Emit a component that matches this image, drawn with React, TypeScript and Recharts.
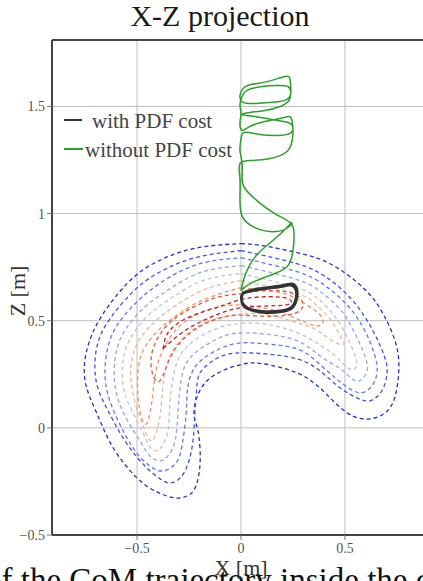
import React from 'react';
import { LineChart, Line, XAxis, YAxis, CartesianGrid, ReferenceLine } from 'recharts';

type Pt = [number, number];

const xTicks = [-0.5, 0, 0.5];
const zTicks = [-0.5, 0, 0.5, 1, 1.5];

// density contours, outermost (blue) to innermost (red)
const c1: Pt[] = [[0, 0.860], [0.106, 0.850], [0.269, 0.818], [0.428, 0.766], [0.587, 0.654], [0.683, 0.533], [0.750, 0.374], [0.755, 0.220], [0.716, 0.093], [0.620, 0.042], [0.510, 0.070], [0.394, 0.173], [0.269, 0.257], [0.106, 0.299], [-0.005, 0.294], [-0.163, 0.220], [-0.226, 0.079], [-0.207, -0.014], [-0.197, -0.168], [-0.221, -0.280], [-0.260, -0.318], [-0.317, -0.327], [-0.404, -0.299], [-0.500, -0.234], [-0.615, -0.093], [-0.692, 0.065], [-0.750, 0.220], [-0.736, 0.383], [-0.663, 0.533], [-0.548, 0.673], [-0.423, 0.766], [-0.231, 0.836], [0, 0.860]];
const c2: Pt[] = [[0, 0.827], [0.269, 0.766], [0.413, 0.701], [0.538, 0.593], [0.635, 0.453], [0.692, 0.327], [0.702, 0.252], [0.678, 0.173], [0.620, 0.126], [0.558, 0.140], [0.476, 0.187], [0.380, 0.266], [0.269, 0.322], [0.106, 0.346], [-0.053, 0.346], [-0.149, 0.304], [-0.197, 0.257], [-0.212, 0.196], [-0.221, 0.079], [-0.231, -0.061], [-0.255, -0.168], [-0.293, -0.234], [-0.341, -0.257], [-0.389, -0.238], [-0.462, -0.178], [-0.558, -0.061], [-0.639, 0.079], [-0.697, 0.220], [-0.692, 0.383], [-0.630, 0.509], [-0.524, 0.631], [-0.404, 0.720], [-0.221, 0.794], [0, 0.827]];
const c3: Pt[] = [[0, 0.794], [0.269, 0.729], [0.404, 0.664], [0.514, 0.570], [0.596, 0.453], [0.644, 0.336], [0.654, 0.257], [0.630, 0.196], [0.582, 0.164], [0.524, 0.182], [0.452, 0.234], [0.370, 0.304], [0.269, 0.369], [0.106, 0.393], [-0.029, 0.393], [-0.139, 0.350], [-0.216, 0.290], [-0.255, 0.196], [-0.264, 0.065], [-0.284, -0.084], [-0.313, -0.164], [-0.375, -0.201], [-0.438, -0.178], [-0.510, -0.107], [-0.591, 0.033], [-0.649, 0.196], [-0.644, 0.360], [-0.591, 0.486], [-0.495, 0.593], [-0.385, 0.678], [-0.212, 0.762], [0, 0.794]];
const c4: Pt[] = [[0, 0.757], [0.269, 0.692], [0.389, 0.631], [0.486, 0.542], [0.553, 0.430], [0.596, 0.336], [0.606, 0.266], [0.572, 0.220], [0.534, 0.229], [0.476, 0.276], [0.380, 0.336], [0.269, 0.407], [0.106, 0.439], [-0.043, 0.439], [-0.149, 0.397], [-0.236, 0.336], [-0.284, 0.243], [-0.303, 0.079], [-0.317, -0.061], [-0.351, -0.131], [-0.389, -0.154], [-0.438, -0.131], [-0.486, -0.061], [-0.558, 0.056], [-0.606, 0.196], [-0.601, 0.350], [-0.553, 0.463], [-0.462, 0.565], [-0.356, 0.640], [-0.197, 0.724], [0, 0.757]];
const c5: Pt[] = [[0, 0.720], [0.269, 0.654], [0.370, 0.603], [0.452, 0.519], [0.514, 0.416], [0.553, 0.322], [0.548, 0.276], [0.514, 0.280], [0.452, 0.336], [0.370, 0.393], [0.269, 0.444], [0.106, 0.486], [-0.053, 0.481], [-0.163, 0.444], [-0.255, 0.383], [-0.313, 0.290], [-0.341, 0.126], [-0.351, -0.014], [-0.380, -0.084], [-0.404, -0.107], [-0.438, -0.089], [-0.471, -0.023], [-0.524, 0.079], [-0.567, 0.196], [-0.563, 0.336], [-0.519, 0.439], [-0.438, 0.533], [-0.332, 0.607], [-0.183, 0.687], [0, 0.720]];
const c6: Pt[] = [[0, 0.687], [0.269, 0.626], [0.356, 0.579], [0.428, 0.509], [0.476, 0.430], [0.495, 0.393], [0.466, 0.393], [0.404, 0.430], [0.332, 0.472], [0.236, 0.500], [0.106, 0.533], [-0.053, 0.523], [-0.173, 0.491], [-0.269, 0.430], [-0.341, 0.336], [-0.375, 0.196], [-0.389, 0.056], [-0.413, -0.037], [-0.428, -0.061], [-0.447, -0.047], [-0.471, 0.009], [-0.505, 0.103], [-0.529, 0.220], [-0.524, 0.322], [-0.486, 0.416], [-0.409, 0.500], [-0.308, 0.575], [-0.163, 0.650], [0, 0.687]];
const c7: Pt[] = [[0, 0.654], [0.188, 0.631], [0.284, 0.593], [0.370, 0.537], [0.394, 0.491], [0.356, 0.477], [0.269, 0.509], [0.163, 0.547], [0.043, 0.570], [-0.077, 0.570], [-0.197, 0.537], [-0.293, 0.477], [-0.365, 0.383], [-0.409, 0.266], [-0.428, 0.126], [-0.447, 0.033], [-0.462, 0.019], [-0.481, 0.056], [-0.495, 0.150], [-0.495, 0.266], [-0.471, 0.360], [-0.413, 0.439], [-0.332, 0.509], [-0.221, 0.579], [-0.101, 0.626], [0, 0.654]];
const c8: Pt[] = [[0, 0.626], [0.115, 0.640], [0.236, 0.631], [0.293, 0.593], [0.284, 0.547], [0.197, 0.523], [0.067, 0.523], [-0.053, 0.523], [-0.173, 0.486], [-0.260, 0.430], [-0.322, 0.360], [-0.361, 0.280], [-0.389, 0.220], [-0.418, 0.234], [-0.433, 0.304], [-0.418, 0.383], [-0.370, 0.463], [-0.293, 0.528], [-0.197, 0.579], [-0.101, 0.612], [0, 0.626]];
const c9: Pt[] = [[-0.375, 0.369], [-0.351, 0.444], [-0.284, 0.500], [-0.197, 0.537], [-0.091, 0.570], [0.019, 0.603], [0.139, 0.612], [0.226, 0.603], [0.236, 0.579], [0.163, 0.570], [0.043, 0.565], [-0.063, 0.547], [-0.163, 0.509], [-0.255, 0.463], [-0.332, 0.407], [-0.375, 0.369]];

const contours = [c1, c2, c3, c4, c5, c6, c7, c8, c9];
const contourColors = ['#2430c8', '#3f54da', '#6078ea', '#90a6f0', '#c6c2d0', '#e8b898', '#ee9464', '#dc5a3a', '#be2228'];

// CoM trajectory without the PDF cost (green)
const withoutPdf: Pt[] = [[0, 0.640], [0.014, 0.696], [0.043, 0.762], [0.091, 0.822], [0.159, 0.879], [0.216, 0.930], [0.245, 0.958], [0.226, 0.935], [0.168, 0.916], [0.091, 0.925], [0.029, 0.958], [0, 1.005], [-0.005, 1.084], [-0.005, 1.164], [-0.005, 1.234], [0.053, 1.248], [0.139, 1.257], [0.207, 1.280], [0.240, 1.318], [0.250, 1.379], [0.245, 1.435], [0.231, 1.453], [0.188, 1.444], [0.115, 1.430], [0.043, 1.407], [0.005, 1.388], [-0.005, 1.425], [0, 1.467], [-0.005, 1.509], [0.005, 1.547], [0.029, 1.575], [0.101, 1.593], [0.178, 1.598], [0.226, 1.593], [0.240, 1.565], [0.221, 1.533], [0.154, 1.519], [0.072, 1.514], [0.010, 1.519], [-0.005, 1.551], [0.010, 1.584], [0.053, 1.603], [0.130, 1.617], [0.212, 1.640], [0.236, 1.626], [0.240, 1.575], [0.231, 1.528], [0.188, 1.500], [0.115, 1.481], [0.043, 1.472], [0.005, 1.462], [0.067, 1.453], [0.149, 1.439], [0.226, 1.425], [0.250, 1.402], [0.236, 1.374], [0.173, 1.364], [0.091, 1.369], [0.019, 1.379], [0, 1.350], [-0.005, 1.294], [0.005, 1.238], [0.005, 1.164], [0.019, 1.117], [0.082, 1.056], [0.163, 1.000], [0.236, 0.958], [0.255, 0.911], [0.250, 0.827], [0.226, 0.757], [0.163, 0.720], [0.053, 0.678], [0, 0.640]];

// CoM trajectory with the PDF cost (black)
const withPdf: Pt[] = [[0.005, 0.631], [0.077, 0.650], [0.188, 0.664], [0.245, 0.673], [0.269, 0.650], [0.269, 0.603], [0.250, 0.561], [0.202, 0.542], [0.106, 0.537], [0.029, 0.556], [0.005, 0.579], [0, 0.607], [0.010, 0.626], [0.082, 0.643], [0.190, 0.657], [0.240, 0.665], [0.262, 0.645], [0.263, 0.605], [0.245, 0.566], [0.200, 0.549], [0.105, 0.545], [0.033, 0.561], [0.008, 0.584], [0.004, 0.608], [0.010, 0.628]];

const rows = (pts: Pt[]) => pts.map(([x, z]) => ({ x, z }));
const fmt = (v: number) => (v < 0 ? '\u2212' + Math.abs(v) : String(v));
const serif = '"Liberation Serif", "DejaVu Serif", serif';

const App: React.FC = () => {
  return <div style={{ position: 'absolute', left: 0, top: 0, width: 423, height: 581, overflow: 'hidden', background: '#fff', fontFamily: serif }}>
      <div style={{ position: 'absolute', left: 0, top: -1, width: 440, textAlign: 'center', fontSize: 30, lineHeight: '34px', color: '#1a1a1a' }}>
        X-Z projection
      </div>
      <div style={{ position: 'absolute', left: -15, top: 562, fontSize: 33, lineHeight: '36px', color: '#111', whiteSpace: 'nowrap' }}>
        of the CoM trajectory inside the convex hull
      </div>
      <div style={{ position: 'absolute', left: 0, top: 0 }}>
        <LineChart width={440} height={581} margin={{ top: 40, right: 10, bottom: 16, left: 0 }}>
          <CartesianGrid stroke="#bdbdbd" />
          <XAxis type="number" dataKey="x" domain={[-0.909, 0.909]} ticks={xTicks} allowDataOverflow height={30}
            tickFormatter={fmt} tickSize={5} tickMargin={3}
            axisLine={{ stroke: '#444', strokeWidth: 2 }} tickLine={{ stroke: '#777' }}
            tick={{ fontSize: 14, fill: '#555', fontFamily: serif }} />
          <YAxis type="number" dataKey="z" domain={[-0.5, 1.81]} ticks={zTicks} allowDataOverflow width={52}
            tickFormatter={fmt} tickSize={5} tickMargin={2}
            axisLine={{ stroke: '#444', strokeWidth: 2 }} tickLine={{ stroke: '#777' }}
            tick={{ fontSize: 14, fill: '#555', fontFamily: serif }} />
          <ReferenceLine y={1.81} stroke="#444" strokeWidth={2} />
          {contours.map((c, i) => <Line key={'c' + i} data={rows(c)} dataKey="z" type="natural" stroke={contourColors[i]}
              strokeWidth={1.3} strokeDasharray="4 3" dot={false} activeDot={false} isAnimationActive={false} />)}
          <Line data={rows(withoutPdf)} dataKey="z" type="natural" stroke="#2ca02c" strokeWidth={1.5} dot={false} activeDot={false} isAnimationActive={false} />
          <Line data={rows(withPdf)} dataKey="z" type="natural" stroke="#333" strokeWidth={2.1} dot={false} activeDot={false} isAnimationActive={false} />
        </LineChart>
      </div>
      <div style={{ position: 'absolute', left: 18, top: 291, transform: 'translate(-50%, -50%) rotate(-90deg)', fontSize: 22, color: '#333', whiteSpace: 'nowrap' }}>
        Z [m]
      </div>
      <div style={{ position: 'absolute', left: 141, width: 200, top: 555, textAlign: 'center', fontSize: 22, lineHeight: '26px', color: '#333' }}>
        X [m]
      </div>
      <div style={{ position: 'absolute', left: 64, top: 119, width: 18, height: 2, background: '#333' }} />
      <div style={{ position: 'absolute', left: 92, top: 109, fontSize: 21, lineHeight: '24px', color: '#444', whiteSpace: 'nowrap' }}>with PDF cost</div>
      <div style={{ position: 'absolute', left: 64, top: 148, width: 19, height: 2, background: '#2ca02c' }} />
      <div style={{ position: 'absolute', left: 85, top: 138, fontSize: 21, lineHeight: '24px', color: '#444', whiteSpace: 'nowrap' }}>without PDF cost</div>
    </div>;
};

export default App;
